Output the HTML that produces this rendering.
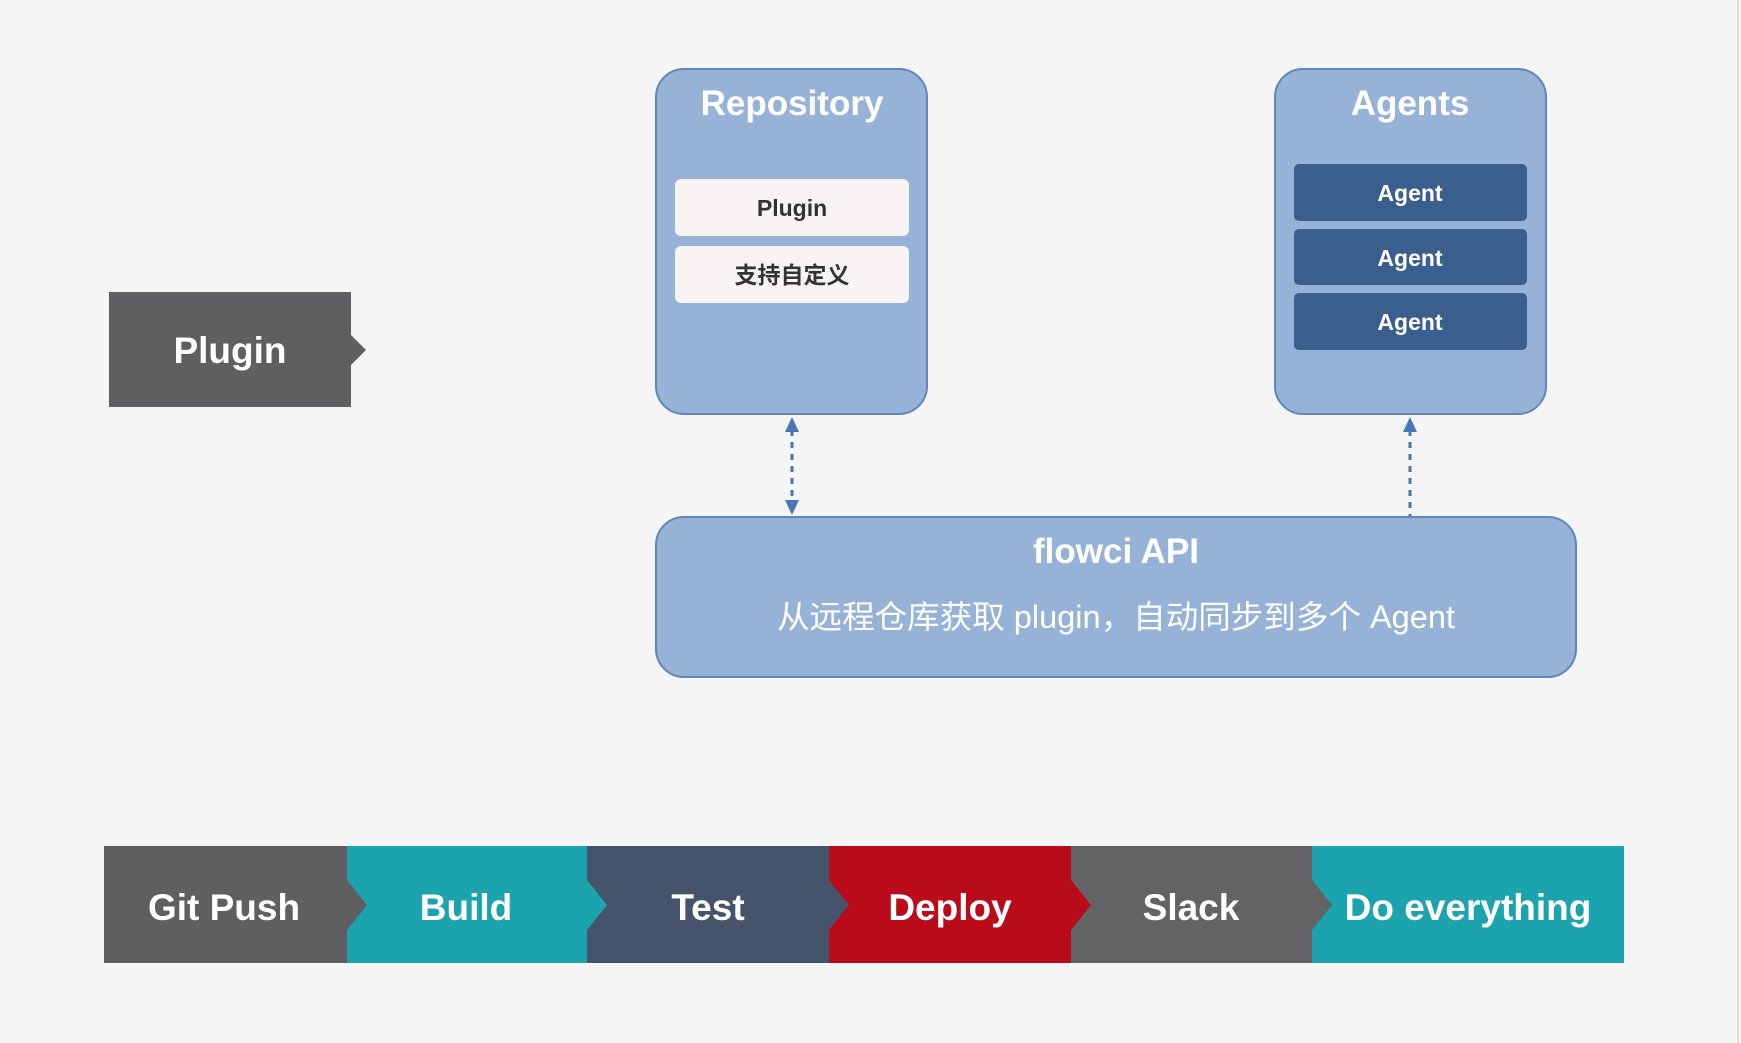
<!DOCTYPE html>
<html><head><meta charset="utf-8"><style>
html,body{margin:0;padding:0;background:#f5f5f6;}
svg{display:block;}
text{font-family:"Liberation Sans","Noto Sans CJK SC",sans-serif;}
</style></head><body>
<svg width="1741" height="1043" viewBox="0 0 1741 1043" xmlns="http://www.w3.org/2000/svg">
<rect width="1741" height="1043" fill="#f5f5f6"/>
<line x1="1738" y1="0" x2="1738" y2="1043" stroke="#dcdcde" stroke-width="2"/>
<polygon points="109,292 351,292 351,335 366,350 351,365 351,407 109,407" fill="#5f5f61"/>
<text x="230" y="363" font-size="37" font-weight="bold" fill="#fff" text-anchor="middle">Plugin</text>
<rect x="656" y="69" width="271" height="345" rx="28" fill="#96b3d7" stroke="#5f86bd" stroke-width="2"/>
<text x="792" y="115" font-size="35" font-weight="bold" fill="#fff" text-anchor="middle">Repository</text>
<rect x="675" y="179" width="234" height="57" rx="6" fill="#f8f4f3"/>
<text x="792" y="216" font-size="23" font-weight="bold" fill="#333" text-anchor="middle">Plugin</text>
<rect x="675" y="246" width="234" height="57" rx="6" fill="#f8f4f3"/>
<text x="792" y="283" font-size="23" font-weight="bold" fill="#333" text-anchor="middle">支持自定义</text>
<rect x="1275" y="69" width="271" height="345" rx="28" fill="#96b3d7" stroke="#5f86bd" stroke-width="2"/>
<text x="1410" y="115" font-size="35" font-weight="bold" fill="#fff" text-anchor="middle">Agents</text>
<rect x="1294" y="164" width="233" height="57" rx="5" fill="#3a5f8f"/>
<text x="1410" y="201" font-size="23" font-weight="bold" fill="#fff" text-anchor="middle">Agent</text>
<rect x="1294" y="229" width="233" height="56" rx="5" fill="#3a5f8f"/>
<text x="1410" y="266" font-size="23" font-weight="bold" fill="#fff" text-anchor="middle">Agent</text>
<rect x="1294" y="293" width="233" height="57" rx="5" fill="#3a5f8f"/>
<text x="1410" y="330" font-size="23" font-weight="bold" fill="#fff" text-anchor="middle">Agent</text>
<line x1="792" y1="430" x2="792" y2="502" stroke="#4a76b5" stroke-width="3" stroke-dasharray="6,6"/>
<polygon points="792,417 785,432 799,432" fill="#4a76b5"/>
<polygon points="792,515 785,500 799,500" fill="#4a76b5"/>
<line x1="1410" y1="430" x2="1410" y2="516" stroke="#4a76b5" stroke-width="3" stroke-dasharray="6,6"/>
<polygon points="1410,417 1403,432 1417,432" fill="#4a76b5"/>
<rect x="656" y="517" width="920" height="160" rx="28" fill="#96b3d7" stroke="#5f86bd" stroke-width="2"/>
<text x="1116" y="563" font-size="35" font-weight="bold" fill="#fff" text-anchor="middle">flowci API</text>
<text x="1116" y="628" font-size="32" fill="#fff" text-anchor="middle" textLength="678" lengthAdjust="spacingAndGlyphs">从远程仓库获取 plugin，自动同步到多个 Agent</text>
<rect x="104" y="846" width="243" height="117" fill="#5f5f61"/>
<rect x="347" y="846" width="240" height="117" fill="#1ba3ae"/>
<rect x="587" y="846" width="242" height="117" fill="#46546b"/>
<rect x="829" y="846" width="242" height="117" fill="#b90b1a"/>
<rect x="1071" y="846" width="241" height="117" fill="#636366"/>
<rect x="1312" y="846" width="312" height="117" fill="#1ba3ae"/>
<polygon points="347,880 367,905 347,930" fill="#5f5f61"/>
<polygon points="587,880 607,905 587,930" fill="#1ba3ae"/>
<polygon points="829,880 849,905 829,930" fill="#46546b"/>
<polygon points="1071,880 1091,905 1071,930" fill="#b90b1a"/>
<polygon points="1312,880 1332,905 1312,930" fill="#636366"/>
<g font-size="37" font-weight="bold" fill="#fff" text-anchor="middle">
<text x="224" y="920">Git Push</text>
<text x="466" y="920">Build</text>
<text x="708" y="920">Test</text>
<text x="950" y="920">Deploy</text>
<text x="1191" y="920">Slack</text>
<text x="1468" y="920">Do everything</text>
</g>
</svg>
</body></html>
